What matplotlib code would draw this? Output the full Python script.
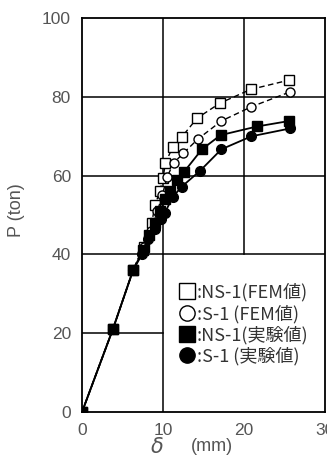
import matplotlib
matplotlib.use("Agg")
import matplotlib.pyplot as plt
from matplotlib.lines import Line2D

plt.rcParams['font.family'] = ['Liberation Sans', 'Noto Sans CJK JP', 'DejaVu Sans']

# load P (ton) vs displacement delta (mm)
ns1_fem_d = [0, 3.8, 6.3, 7.6, 8.6, 9.0, 9.6, 10.0, 10.3, 11.2, 12.3, 14.2, 17.0, 20.8, 25.6]
ns1_fem_p = [0, 21, 36, 42, 48, 52.5, 56, 59.5, 63.3, 67.3, 69.8, 74.6, 78.4, 81.9, 84.3]
s1_fem_d = [0, 3.8, 6.3, 7.6, 8.5, 9.3, 9.9, 10.5, 11.3, 12.5, 14.3, 17.2, 20.9, 25.7]
s1_fem_p = [0, 21, 36, 42, 46, 51, 55, 59.7, 63.2, 65.7, 69.3, 73.9, 77.5, 81.3]
ns1_exp_d = [0, 3.8, 6.3, 7.5, 8.3, 9.0, 9.6, 10.3, 10.9, 11.7, 12.6, 14.8, 17.1, 21.6, 25.6]
ns1_exp_p = [0, 21, 36, 41, 45, 48, 51, 54, 56, 58.9, 61, 66.7, 70.3, 72.5, 73.9]
s1_exp_d = [0, 3.8, 6.3, 7.4, 8.2, 9.0, 9.7, 10.2, 11.2, 12.3, 14.6, 17.2, 20.9, 25.7]
s1_exp_p = [0, 21, 36, 40, 44, 46.5, 49, 50.5, 54.6, 57.2, 61.3, 66.7, 70.0, 72.0]

labels = [":NS-1(FEM値)", ":S-1 (FEM値)", ":NS-1(実験値)", ":S-1 (実験値)"]
xticks = [0, 10, 20, 30]
yticks = [0, 20, 40, 60, 80, 100]

fig = plt.figure(figsize=(3.27, 4.67), dpi=100)
ax = fig.add_axes([0.251, 0.118, 0.743, 0.843])
ax.set_xlim(0, 30)
ax.set_ylim(0, 100)

# grid lines as drawn in the original (broken around the legend)
gk = dict(color="black", lw=1.1, zorder=1)
ax.plot([10, 10], [0, 100], **gk)
ax.plot([20, 20], [40, 100], **gk)
ax.plot([0, 10], [20, 20], **gk)
for y in (40, 60, 80):
    ax.plot([0, 30], [y, y], **gk)

ax.plot(ns1_fem_d, ns1_fem_p, ls=(0, (4, 2.5)), color="black", lw=1.0, marker="s", ms=7,
        mfc="white", mec="black", mew=1.0, zorder=3)
ax.plot(s1_fem_d, s1_fem_p, ls=(0, (4, 2.5)), color="black", lw=1.0, marker="o", ms=6.5,
        mfc="white", mec="black", mew=1.0, zorder=3)
ax.plot(ns1_exp_d, ns1_exp_p, ls="-", color="black", lw=1.3, marker="s", ms=7,
        mfc="black", mec="black", zorder=4)
ax.plot(s1_exp_d, s1_exp_p, ls="-", color="black", lw=1.3, marker="o", ms=7,
        mfc="black", mec="black", zorder=4)

for s in ax.spines.values():
    s.set_linewidth(1.3)
ax.set_xticks(xticks)
ax.set_yticks(yticks)
ax.tick_params(length=0, labelsize=12.5, labelcolor="#555555", pad=8)

fig.text(0.05, 0.55, "P (ton)", rotation=90, ha="center", va="center", fontsize=13, color="#555555")
fig.text(0.48, 0.043, r"$\delta$", ha="center", va="center", fontsize=15, color="#555555",
         family="DejaVu Serif")
fig.text(0.648, 0.043, "(mm)", ha="center", va="center", fontsize=13, color="#555555")

handles = [Line2D([], [], ls="", marker="s", ms=11, mfc="white", mec="black", mew=1.0),
           Line2D([], [], ls="", marker="o", ms=11, mfc="white", mec="black", mew=1.0),
           Line2D([], [], ls="", marker="s", ms=11, mfc="black", mec="black"),
           Line2D([], [], ls="", marker="o", ms=11, mfc="black", mec="black")]
leg = ax.legend(handles, labels, loc="lower right", bbox_to_anchor=(0.975, 0.09), frameon=False,
                handlelength=0.8, handletextpad=0.1, labelspacing=0.15, borderaxespad=0.2,
                prop={"family": ["Noto Sans CJK JP"], "size": 13})
for t in leg.get_texts():
    t.set_color("#333333")

fig.savefig("out.png", dpi=100)
